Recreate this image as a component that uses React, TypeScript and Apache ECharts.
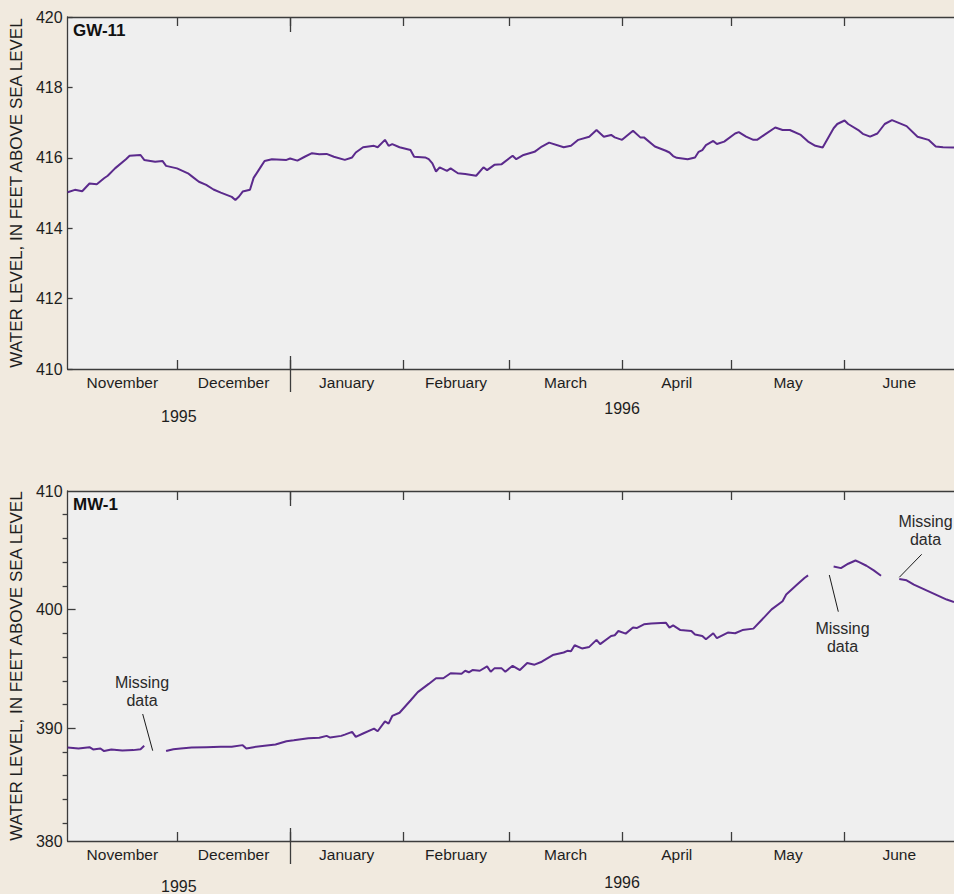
import React, { useEffect, useRef } from "react";
import * as echarts from "echarts";

// Days counted from 1 November 1995 (day 0) to 1 July 1996 (day 243)
const monthNames = ["November", "December", "January", "February", "March", "April", "May", "June"];
const monthStartDays = [0, 30, 61, 92, 121, 152, 182, 213, 243];
const yearLabels = ["1995", "1996"];
const yearStartDays = [0, 61, 243];

// GW-11 water level, feet above sea level
const gw11Days = [0, 2, 4, 6, 8, 10, 11, 13, 16, 17, 20, 21, 24, 26, 27, 30, 33, 34, 36, 38, 40, 42, 45, 46, 47, 48, 50, 51, 53, 54, 56, 60, 61, 63, 65, 67, 69, 71, 73, 76, 78, 79, 81, 84, 85, 87, 88, 89, 91, 94, 95, 98, 99, 100, 101, 102, 104, 105, 107, 109, 112, 114, 115, 117, 119, 122, 123, 125, 128, 130, 132, 136, 138, 140, 143, 145, 147, 149, 150, 152, 155, 157, 158, 161, 164, 165, 166, 167, 170, 172, 173, 174, 175, 177, 178, 180, 183, 184, 186, 188, 189, 191, 194, 196, 198, 201, 203, 205, 207, 210, 211, 213, 214, 217, 218, 220, 222, 224, 226, 230, 233, 236, 238, 240, 243];
const gw11Levels = [415.02, 415.09, 415.05, 415.27, 415.25, 415.42, 415.49, 415.7, 415.96, 416.06, 416.08, 415.94, 415.89, 415.91, 415.77, 415.7, 415.56, 415.48, 415.32, 415.23, 415.1, 415.01, 414.89, 414.8, 414.9, 415.04, 415.09, 415.43, 415.75, 415.91, 415.96, 415.94, 415.98, 415.92, 416.03, 416.13, 416.1, 416.11, 416.03, 415.94, 416.01, 416.15, 416.3, 416.34, 416.3, 416.51, 416.34, 416.39, 416.3, 416.22, 416.03, 416.01, 415.96, 415.84, 415.61, 415.73, 415.63, 415.7, 415.56, 415.54, 415.49, 415.73, 415.65, 415.8, 415.82, 416.06, 415.96, 416.08, 416.17, 416.32, 416.43, 416.3, 416.34, 416.51, 416.6, 416.79, 416.6, 416.65, 416.58, 416.51, 416.77, 416.58, 416.58, 416.32, 416.2, 416.15, 416.05, 416.0, 415.96, 416.01, 416.17, 416.22, 416.36, 416.48, 416.39, 416.46, 416.69, 416.73, 416.6, 416.51, 416.51, 416.65, 416.86, 416.79, 416.79, 416.65, 416.46, 416.34, 416.29, 416.84, 416.96, 417.06, 416.96, 416.77, 416.68, 416.6, 416.69, 416.96, 417.07, 416.9, 416.6, 416.51, 416.32, 416.3, 416.29];

// MW-1 water level, feet above sea level (null = missing data)
const mw1Days = [0, 3, 6, 7, 9, 10, 12, 15, 18, 20, 21, 24, 27, 29, 31, 34, 38, 42, 45, 48, 49, 51, 54, 57, 60, 62, 66, 69, 71, 72, 75, 76, 78, 79, 81, 84, 85, 87, 88, 89, 91, 94, 96, 99, 101, 103, 105, 108, 109, 110, 111, 113, 115, 116, 117, 119, 120, 122, 124, 126, 128, 130, 133, 136, 137, 138, 139, 141, 143, 145, 146, 149, 150, 151, 153, 155, 156, 158, 160, 164, 165, 166, 168, 171, 172, 174, 175, 177, 178, 181, 183, 185, 188, 190, 193, 196, 197, 200, 202, 203, 206, 210, 212, 214, 216, 217, 219, 221, 223, 225, 228, 230, 232, 235, 238, 241, 243];
const mw1Levels = [388.38, 388.3, 388.41, 388.22, 388.3, 388.08, 388.22, 388.13, 388.16, 388.24, 388.53, null, 388.08, 388.24, 388.3, 388.38, 388.41, 388.44, 388.44, 388.58, 388.3, 388.41, 388.53, 388.64, 388.91, 388.99, 389.17, 389.2, 389.36, 389.22, 389.36, 389.47, 389.7, 389.28, 389.56, 389.97, 389.75, 390.59, 390.39, 391.04, 391.31, 392.34, 393.05, 393.74, 394.22, 394.22, 394.64, 394.6, 394.85, 394.72, 394.91, 394.85, 395.22, 394.77, 395.05, 395.05, 394.77, 395.27, 394.91, 395.5, 395.36, 395.61, 396.17, 396.39, 396.53, 396.5, 397.0, 396.73, 396.86, 397.45, 397.09, 397.78, 397.84, 398.2, 397.98, 398.49, 398.45, 398.76, 398.84, 398.9, 398.49, 398.68, 398.28, 398.2, 397.9, 397.78, 397.5, 398.01, 397.59, 398.07, 398.01, 398.28, 398.4, 399.04, 400.02, 400.71, 401.27, 402.11, 402.67, 402.89, null, 403.64, 403.5, 403.87, 404.14, 404.0, 403.7, 403.31, 402.86, null, 402.58, 402.47, 402.11, 401.69, 401.27, 400.85, 400.65];

const mwMajorTicks = [390, 400];
const mwMinorTicks = [382, 384, 386, 388, 392, 394, 396, 398, 402, 404, 406, 408];
const mwLabelValues = [380.5, 390, 400, 410]; // axis of original figure is cut at ~380.5

const FONT = "'Liberation Sans', Arial, sans-serif";
const AXIS_COLOR = "#3c3c3c";
const TEXT_COLOR = "#1e1e1e";
const LINE_COLOR = "#5b2a8c";

const innerMonthStarts = monthStartDays.slice(1, -1);
const monthMids = monthNames.map((_, i) => (monthStartDays[i] + monthStartDays[i + 1]) / 2);
const yearMids = yearLabels.map((_, i) => (yearStartDays[i] + yearStartDays[i + 1]) / 2);
const yearBoundary = yearStartDays[1];

function makeXAxes(gridIndex: number, m1995: number, m1996: number) {
  const base = {
    type: "value" as const,
    gridIndex,
    min: 0,
    max: 243,
    splitLine: { show: false },
  };
  const lineStyle = { color: AXIS_COLOR, width: 1.3 };
  return [
    {
      ...base,
      position: "bottom",
      axisLine: { show: true, lineStyle },
      axisTick: { show: true, inside: true, length: 9, customValues: innerMonthStarts, lineStyle },
      axisLabel: {
        show: true,
        customValues: monthMids,
        margin: 5,
        color: TEXT_COLOR,
        fontFamily: FONT,
        fontSize: 15.5,
        formatter: (v: number) => {
          const i = monthMids.findIndex((m) => Math.abs(m - v) < 0.01);
          return i >= 0 ? monthNames[i] : "";
        },
      },
    },
    {
      ...base,
      position: "top",
      axisLine: { show: true, lineStyle },
      axisTick: { show: true, inside: true, length: 9, customValues: innerMonthStarts, lineStyle },
      axisLabel: { show: false },
    },
    {
      ...base,
      position: "top",
      axisLine: { show: false },
      axisTick: { show: true, inside: true, length: 15, customValues: [yearBoundary], lineStyle },
      axisLabel: { show: false },
    },
    {
      ...base,
      position: "bottom",
      axisLine: { show: false },
      axisTick: { show: true, inside: true, length: 13, customValues: [yearBoundary], lineStyle },
      axisLabel: { show: false },
    },
    {
      ...base,
      position: "bottom",
      axisLine: { show: false },
      axisTick: { show: true, inside: false, length: 23, customValues: [yearBoundary], lineStyle },
      axisLabel: {
        show: true,
        customValues: [yearMids[0]],
        margin: m1995,
        color: TEXT_COLOR,
        fontFamily: FONT,
        fontSize: 16,
        formatter: () => yearLabels[0],
      },
    },
    {
      ...base,
      position: "bottom",
      axisLine: { show: false },
      axisTick: { show: false },
      axisLabel: {
        show: true,
        customValues: [yearMids[1]],
        margin: m1996,
        color: TEXT_COLOR,
        fontFamily: FONT,
        fontSize: 16,
        formatter: () => yearLabels[1],
      },
    },
  ];
}

const yTitle = "WATER LEVEL, IN FEET ABOVE SEA LEVEL";

export default function App() {
  const ref = useRef<HTMLDivElement>(null);

  useEffect(() => {
    if (!ref.current) return;
    const chart = echarts.init(ref.current, null, { renderer: "svg" });
    const lineStyle = { color: AXIS_COLOR, width: 1.3 };
    const yLabelBase = {
      show: true,
      margin: 5,
      color: TEXT_COLOR,
      fontFamily: FONT,
      fontSize: 16,
    };
    const yNameBase = {
      name: yTitle,
      nameLocation: "middle" as const,
      nameGap: 39,
      nameRotate: 90,
      nameTextStyle: { fontFamily: FONT, fontSize: 17, color: TEXT_COLOR },
    };

    const annotationText = (x: number, y: number) => ({
      type: "text",
      x,
      y,
      style: {
        text: "Missing\ndata",
        fontFamily: FONT,
        fontSize: 16,
        lineHeight: 18,
        fill: "#2a2a2a",
        align: "center",
        verticalAlign: "middle",
      },
    });
    const annotationLine = (x1: number, y1: number, x2: number, y2: number) => ({
      type: "line",
      shape: { x1, y1, x2, y2 },
      style: { stroke: "#1a1a1a", lineWidth: 1 },
    });

    chart.setOption({
      animation: false,
      backgroundColor: "#f1eadf",
      grid: [
        { left: 65, top: 17, right: -9, height: 352, show: true, backgroundColor: "#efefef", borderWidth: 0 },
        { left: 65, top: 491, right: -9, height: 352, show: true, backgroundColor: "#efefef", borderWidth: 0 },
      ],
      xAxis: [...makeXAxes(0, 39, 31), ...makeXAxes(1, 37, 33)],
      yAxis: [
        {
          ...yNameBase,
          type: "value",
          gridIndex: 0,
          min: 410,
          max: 420,
          interval: 2,
          axisLine: { show: true, lineStyle },
          axisTick: { show: true, inside: true, length: 5, lineStyle },
          axisLabel: yLabelBase,
          splitLine: { show: false },
        },
        {
          ...yNameBase,
          type: "value",
          gridIndex: 1,
          min: 380.5,
          max: 410,
          axisLine: { show: true, lineStyle },
          axisTick: { show: true, inside: true, length: 8, customValues: mwMajorTicks, lineStyle },
          axisLabel: {
            ...yLabelBase,
            customValues: mwLabelValues,
            formatter: (v: number) => String(Math.round(v / 10) * 10),
          },
          splitLine: { show: false },
        },
        {
          type: "value",
          gridIndex: 1,
          min: 380.5,
          max: 410,
          axisLine: { show: false },
          axisTick: { show: true, inside: true, length: 5, customValues: mwMinorTicks, lineStyle },
          axisLabel: { show: false },
          splitLine: { show: false },
        },
      ],
      series: [
        {
          name: "GW-11",
          type: "line",
          xAxisIndex: 0,
          yAxisIndex: 0,
          showSymbol: false,
          lineStyle: { color: LINE_COLOR, width: 2 },
          data: gw11Days.map((d, i) => [d, gw11Levels[i]]),
        },
        {
          name: "MW-1",
          type: "line",
          xAxisIndex: 6,
          yAxisIndex: 1,
          showSymbol: false,
          connectNulls: false,
          lineStyle: { color: LINE_COLOR, width: 2 },
          data: mw1Days.map((d, i) => [d, mw1Levels[i] === null ? "-" : mw1Levels[i]]),
        },
      ],
      graphic: [
        {
          type: "text",
          x: 73,
          y: 30,
          style: { text: "GW-11", fontFamily: FONT, fontWeight: "bold", fontSize: 17, fill: "#111", verticalAlign: "middle" },
        },
        {
          type: "text",
          x: 73,
          y: 504,
          style: { text: "MW-1", fontFamily: FONT, fontWeight: "bold", fontSize: 17, fill: "#111", verticalAlign: "middle" },
        },
        annotationText(142, 691),
        annotationLine(142.7, 714, 152.7, 750.7),
        annotationText(842.5, 637),
        annotationLine(829.3, 575, 838.3, 611.7),
        annotationText(925.5, 530.5),
        annotationLine(921.7, 554.3, 899.3, 577.3),
      ],
    });
    return () => chart.dispose();
  }, []);

  return (
    <div
      ref={ref}
      style={{ position: "fixed", left: 0, top: 0, width: 954, height: 894 }}
    />
  );
}
